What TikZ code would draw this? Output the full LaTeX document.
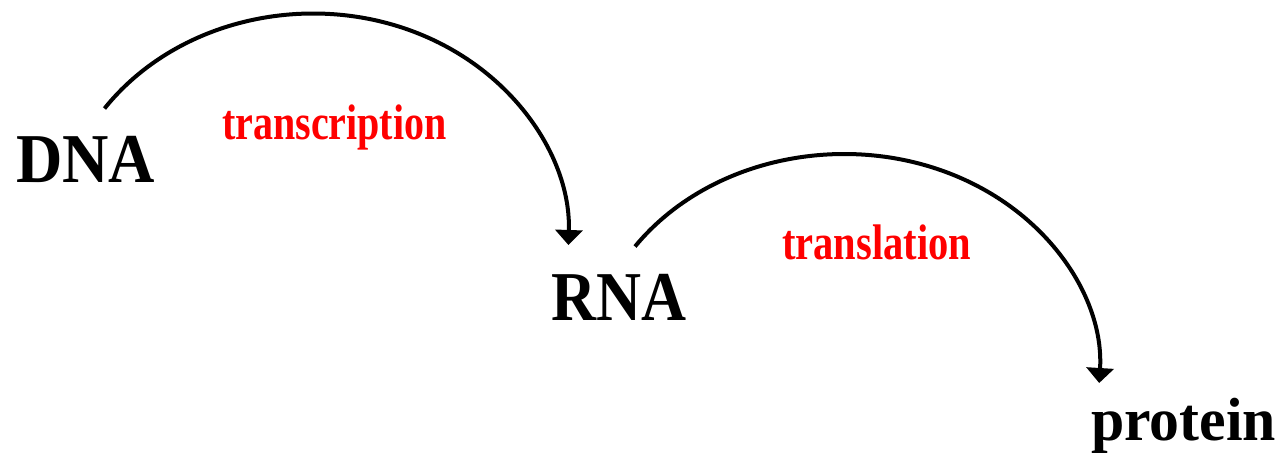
\documentclass[tikz,border=0pt]{standalone}
\usepackage{fontspec}
\setmainfont{Liberation Serif}
\usepackage{graphicx}
\usetikzlibrary{arrows.meta}
\tikzset{
  bigword/.style={anchor=base west, inner sep=0pt, font=\bfseries},
  redword/.style={anchor=base west, inner sep=0pt, text=red, font=\bfseries},
  flow/.style={line width=4pt, -{Triangle[width=27pt,length=15pt]}}
}
\begin{document}
\begin{tikzpicture}[x=1pt,y=1pt]
\useasboundingbox (0,0) rectangle (1287,-458);
\node[bigword] (dna) at (16,-182) {\scalebox{0.917}[1]{\fontsize{70}{70}\selectfont DNA}};
\node[bigword] (rna) at (551,-320) {\scalebox{0.89}[1]{\fontsize{70}{70}\selectfont RNA}};
\node[bigword] (protein) at (1091,-440) {\scalebox{0.98}[1]{\fontsize{61}{61}\selectfont protein}};
\node[redword] (tc) at (222,-139) {\scalebox{0.80}[1]{\fontsize{50}{50}\selectfont transcription}};
\node[redword] (tl) at (782,-259) {\scalebox{0.81}[1]{\fontsize{50}{50}\selectfont translation}};
\coordinate (s1) at (104.5,-108.5);
\coordinate (s2) at (635,-246.5);
\draw[flow] (s1) arc[start angle=144.7, end angle=-1.65, x radius=255.5pt, y radius=225pt];
\draw[flow] (s2) arc[start angle=144.9, end angle=-3, x radius=255.5pt, y radius=217.6pt];
\end{tikzpicture}
\end{document}
